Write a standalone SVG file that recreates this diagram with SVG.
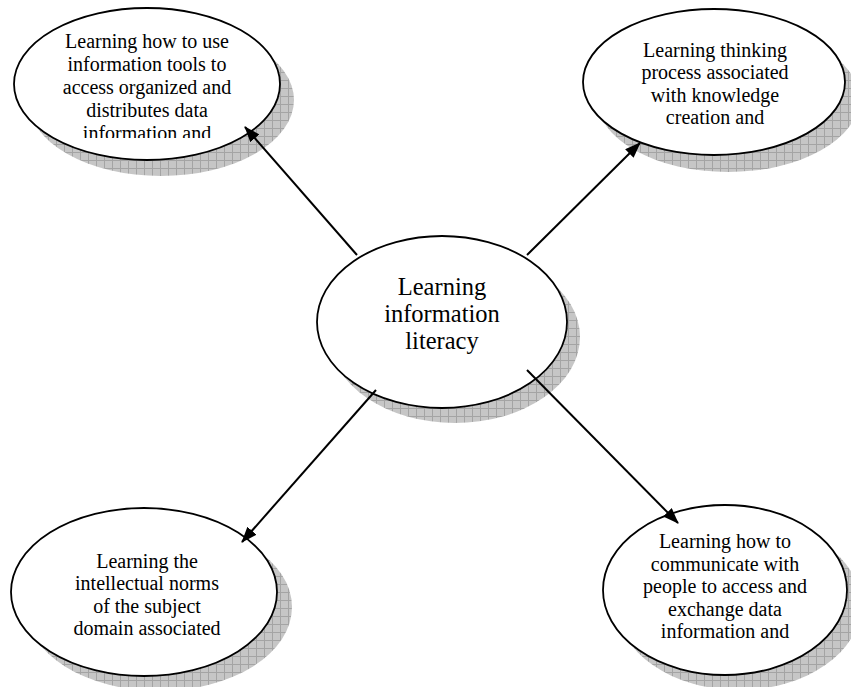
<svg xmlns="http://www.w3.org/2000/svg" width="851" height="687" viewBox="0 0 851 687">
<style>
.shadow{fill:url(#grid);stroke:none}
.node{fill:#fff;stroke:#000;stroke-width:1.8}
.t{font-family:"Liberation Serif","Times New Roman",serif;font-size:20px;fill:#000;text-anchor:middle}
.tc{font-size:24.5px}
.conn{stroke:#000;stroke-width:2;fill:none;marker-end:url(#arr)}
</style>
<defs>
<pattern id="grid" width="8" height="8" patternUnits="userSpaceOnUse">
<rect width="8" height="8" fill="#c6c6c6"/>
<path d="M0 0.5H8M0.5 0V8" stroke="#a4a4a4" stroke-width="1"/>
</pattern>
<marker id="arr" markerWidth="16" markerHeight="12" refX="15" refY="6" orient="auto" markerUnits="userSpaceOnUse">
<path d="M0 0L16 6L0 12Z" fill="#000"/>
</marker>
<clipPath id="c1"><rect x="0" y="0" width="300" height="138"/></clipPath>
<clipPath id="c5"><rect x="560" y="480" width="291" height="163"/></clipPath>
</defs>
<g id="n-topleft">
<ellipse class="shadow" cx="161" cy="100" rx="133" ry="76"/>
<ellipse class="node" cx="147" cy="84" rx="133" ry="76"/>
<g clip-path="url(#c1)">
<text class="t" x="147" y="48">Learning how to use</text>
<text class="t" x="147" y="71">information tools to</text>
<text class="t" x="147" y="94">access organized and</text>
<text class="t" x="147" y="117">distributes data</text>
<text class="t" x="147" y="140">information and</text>
</g>
</g>
<g id="n-topright">
<ellipse class="shadow" cx="728" cy="99" rx="131" ry="73"/>
<ellipse class="node" cx="714" cy="82" rx="131" ry="73"/>
<text class="t" x="715" y="57">Learning thinking</text>
<text class="t" x="715" y="79">process associated</text>
<text class="t" x="715" y="102">with knowledge</text>
<text class="t" x="715" y="124">creation and</text>
</g>
<g id="n-center">
<ellipse class="shadow" cx="455" cy="337" rx="125" ry="86"/>
<ellipse class="node" cx="442" cy="322" rx="125" ry="86"/>
<text class="t tc" x="442" y="295">Learning</text>
<text class="t tc" x="442" y="322">information</text>
<text class="t tc" x="442" y="349">literacy</text>
</g>
<g id="n-bottomleft">
<ellipse class="shadow" cx="159" cy="607" rx="133" ry="84"/>
<ellipse class="node" cx="144" cy="592" rx="133" ry="84"/>
<text class="t" x="147" y="568">Learning the</text>
<text class="t" x="147" y="590">intellectual norms</text>
<text class="t" x="147" y="613">of the subject</text>
<text class="t" x="147" y="635">domain associated</text>
</g>
<g id="n-bottomright">
<ellipse class="shadow" cx="739" cy="605" rx="122" ry="85"/>
<ellipse class="node" cx="725" cy="590" rx="122" ry="85"/>
<g clip-path="url(#c5)">
<text class="t" x="725" y="548">Learning how to</text>
<text class="t" x="725" y="571">communicate with</text>
<text class="t" x="725" y="593">people to access and</text>
<text class="t" x="725" y="616">exchange data</text>
<text class="t" x="725" y="638">information and</text>
</g>
</g>
<g id="connectors">
<line class="conn" x1="357" y1="255" x2="245" y2="127"/>
<line class="conn" x1="527" y1="255" x2="640" y2="143"/>
<line class="conn" x1="376" y1="390" x2="242" y2="542"/>
<line class="conn" x1="527" y1="370" x2="678" y2="523"/>
</g>
</svg>
